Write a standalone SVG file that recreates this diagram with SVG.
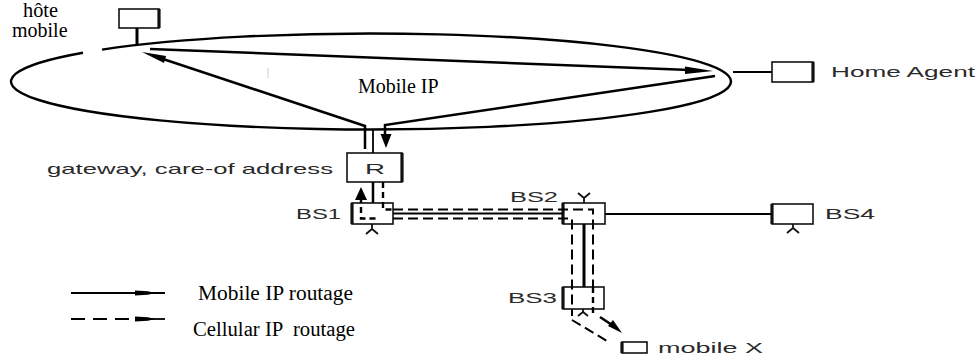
<svg xmlns="http://www.w3.org/2000/svg" width="980" height="358" viewBox="0 0 980 358">
<style>
.box{fill:#fff;stroke:#111;stroke-width:1.6}
.edge{stroke:#111;stroke-width:3.2}
.ant{fill:none;stroke:#111;stroke-width:1.8}
.solid{fill:none;stroke:#000;stroke-width:2.5}
.thin{fill:none;stroke:#000;stroke-width:1.8}
.dash{fill:none;stroke:#000;stroke-width:2;stroke-dasharray:10 5}
.dashs{fill:none;stroke:#000;stroke-width:2.4;stroke-dasharray:6 4}
.ah{fill:#000}
.sans{font-family:"Liberation Sans",Arial,sans-serif;fill:#2a2a2a;font-size:15px}
.serif{font-family:"Liberation Serif","Times New Roman",serif;fill:#000;font-size:20px}
</style>

<g id="internet">
  <path d="M102,49.6 A360,48 0 1 1 83,52.7" fill="none" stroke="#000" stroke-width="2.4"/>
  <line x1="268" y1="68" x2="268" y2="78" stroke="#ccc" stroke-width="1"/>
  <text class="serif" x="358" y="93" font-size="21">Mobile IP</text>
</g>

<g id="host">
  <rect class="box" x="119" y="9" width="40" height="19"/>
  <line class="edge" x1="159" y1="9" x2="159" y2="28"/>
  <line x1="137" y1="28" x2="137" y2="45" stroke="#000" stroke-width="3"/>
  <text class="serif" x="23" y="17" font-size="18" textLength="35" lengthAdjust="spacingAndGlyphs">hôte</text>
  <text class="serif" x="12" y="37">mobile</text>
</g>

<g id="home-agent">
  <rect class="box" x="772" y="62" width="41" height="20"/>
  <line class="edge" x1="813" y1="62" x2="813" y2="82"/>
  <text class="sans" x="831" y="77" font-size="17" textLength="144" lengthAdjust="spacingAndGlyphs">Home Agent</text>
</g>

<g id="router">
  <rect class="box" x="347" y="153" width="55" height="29"/>
  <line class="edge" x1="402" y1="153" x2="402" y2="182"/>
  <text class="sans" x="365" y="174" textLength="20" lengthAdjust="spacingAndGlyphs">R</text>
  <text class="sans" x="47" y="174" textLength="286" lengthAdjust="spacingAndGlyphs">gateway, care-of address</text>
</g>

<g id="bs1">
  <rect class="box" x="352" y="203" width="41" height="21"/>
  <line class="edge" x1="352" y1="203" x2="352" y2="224"/>
  <path class="ant" d="M372,224 V229 M366,234 L372,229 L378,234"/>
  <text class="sans" x="296" y="219" textLength="45" lengthAdjust="spacingAndGlyphs">BS1</text>
</g>

<g id="bs2">
  <rect class="box" x="563" y="203" width="42" height="21"/>
  <line class="edge" x1="563" y1="203" x2="563" y2="224"/>
  <path class="ant" d="M584,203 V198 M578,193 L584,198 L590,193"/>
  <text class="sans" x="510" y="202" textLength="48" lengthAdjust="spacingAndGlyphs">BS2</text>
</g>

<g id="bs3">
  <rect class="box" x="563" y="287" width="41" height="22"/>
  <line class="edge" x1="563" y1="287" x2="563" y2="309"/>
  <path class="ant" d="M583,309 V312 M578,316 L583,312 L588,316"/>
  <text class="sans" x="508" y="303" textLength="49" lengthAdjust="spacingAndGlyphs">BS3</text>
</g>

<g id="bs4">
  <rect class="box" x="772" y="204" width="41" height="20"/>
  <line class="edge" x1="772" y1="204" x2="772" y2="224"/>
  <path class="ant" d="M793,224 V228 M787,233 L793,228 L799,233"/>
  <text class="sans" x="825" y="219" textLength="50" lengthAdjust="spacingAndGlyphs">BS4</text>
</g>

<g id="mobile-x">
  <rect class="box" x="622" y="342" width="25" height="11"/>
  <line class="edge" x1="622" y1="342" x2="622" y2="353"/>
  <text class="sans" x="658" y="353" textLength="105" lengthAdjust="spacingAndGlyphs">mobile X</text>
</g>

<g id="connectors">
  <polyline class="solid" points="365,149 365,126 160,58"/>
  <polygon class="ah" points="142,52 166,56 164,63"/>
  <line class="solid" x1="150" y1="49" x2="690" y2="70"/>
  <polygon class="ah" points="713,71 685,66.5 685,74"/>
  <polyline class="solid" points="715,76 385,125 385,136"/>
  <polygon class="ah" points="380.5,134 391.5,134 386,148"/>
  <line class="thin" x1="373" y1="130" x2="373" y2="153"/>
  <line class="thin" x1="733" y1="72" x2="772" y2="72"/>
  <line class="solid" x1="373" y1="182" x2="373" y2="203"/>
  <polygon class="ah" points="361,187 355,200 367,200"/>
  <line class="solid" x1="361" y1="199" x2="361" y2="203"/>
  <line class="thin" x1="393" y1="213.5" x2="563" y2="213.5"/>
  <line class="thin" x1="605" y1="214" x2="772" y2="214"/>
  <line x1="584" y1="224" x2="584" y2="287" stroke="#000" stroke-width="3"/>
  <polyline class="dashs" points="383,182 383,209.5 392,209.5"/>
  <polyline class="dash" points="393,209.5 593,209.5 593,287"/>
  <line class="dashs" x1="593" y1="287" x2="593" y2="316" stroke-width="3"/>
  <polyline class="dashs" points="361,207 361,218.5 376,218.5"/>
  <polyline class="dash" points="393,218.5 572,218.5 572,316"/>
  <line class="dash" x1="572" y1="320" x2="607" y2="341" stroke-dasharray="9 6"/>
  <line class="solid" x1="600" y1="317" x2="612" y2="325"/>
  <polygon class="ah" points="622,333 608,326 613,320"/>
</g>

<g id="legend">
  <line class="thin" x1="71" y1="293" x2="165" y2="293"/>
  <polygon class="ah" points="135,290.5 148,291.2 155,293 148,294.8 135,295.5"/>
  <line class="thin" x1="71" y1="319" x2="130" y2="319" stroke-dasharray="14 8"/>
  <line class="thin" x1="150" y1="319" x2="165" y2="319"/>
  <polygon class="ah" points="135,316.5 148,317.2 155,319 148,320.8 135,321.5"/>
  <text class="serif" x="198" y="300" textLength="155" lengthAdjust="spacingAndGlyphs">Mobile IP routage</text>
  <text class="serif" x="193" y="336" textLength="162" lengthAdjust="spacingAndGlyphs" xml:space="preserve">Cellular IP  routage</text>
</g>
</svg>
